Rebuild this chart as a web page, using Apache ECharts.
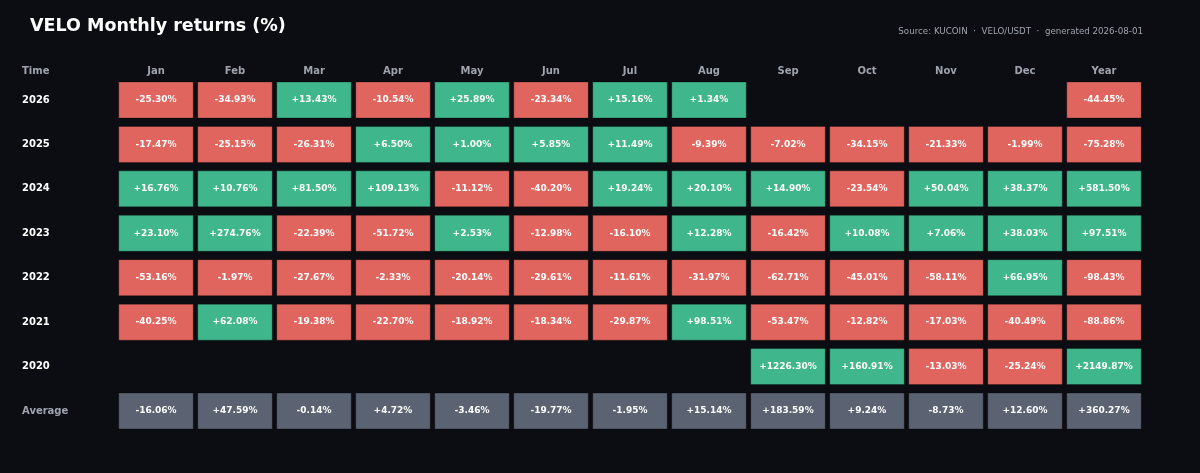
<!DOCTYPE html>
<html>
<head>
<meta charset="utf-8">
<script src="https://cdn.jsdelivr.net/npm/echarts@6/dist/echarts.min.js"></script>
<style>
  html, body { margin: 0; padding: 0; background: #0b0d12; }
  #main { width: 1200px; height: 473px; }
</style>
</head>
<body>
<div id="main"></div>
<script>
var columns = ['Jan', 'Feb', 'Mar', 'Apr', 'May', 'Jun', 'Jul', 'Aug', 'Sep', 'Oct', 'Nov', 'Dec', 'Year'];
var rowNames = ['2026', '2025', '2024', '2023', '2022', '2021', '2020', 'Average'];

var r2026 = [-25.30, -34.93, 13.43, -10.54, 25.89, -23.34, 15.16, 1.34, null, null, null, null, -44.45];
var r2025 = [-17.47, -25.15, -26.31, 6.50, 1.00, 5.85, 11.49, -9.39, -7.02, -34.15, -21.33, -1.99, -75.28];
var r2024 = [16.76, 10.76, 81.50, 109.13, -11.12, -40.20, 19.24, 20.10, 14.90, -23.54, 50.04, 38.37, 581.50];
var r2023 = [23.10, 274.76, -22.39, -51.72, 2.53, -12.98, -16.10, 12.28, -16.42, 10.08, 7.06, 38.03, 97.51];
var r2022 = [-53.16, -1.97, -27.67, -2.33, -20.14, -29.61, -11.61, -31.97, -62.71, -45.01, -58.11, 66.95, -98.43];
var r2021 = [-40.25, 62.08, -19.38, -22.70, -18.92, -18.34, -29.87, 98.51, -53.47, -12.82, -17.03, -40.49, -88.86];
var r2020 = [null, null, null, null, null, null, null, null, 1226.30, 160.91, -13.03, -25.24, 2149.87];
var average = [-16.06, 47.59, -0.14, 4.72, -3.46, -19.77, -1.95, 15.14, 183.59, 9.24, -8.73, 12.60, 360.27];

var rows = [r2026, r2025, r2024, r2023, r2022, r2021, r2020, average];

var UP = '#3fb68b', DOWN = '#e0655e', AVG = '#5b6271';
var FONT = 'DejaVu Sans';

// [col, row, value, isAverage]
var cells = [];
rows.forEach(function (vals, ri) {
  vals.forEach(function (v, ci) {
    if (v === null) return;
    cells.push([ci, ri, v, ri === rows.length - 1 ? 1 : 0]);
  });
});

function fmt(v) {
  return (v >= 0 ? '+' : '') + v.toFixed(2) + '%';
}

var myChart = echarts.init(document.getElementById('main'));
var option = {
  backgroundColor: '#0b0d12',
  animation: false,
  title: [{
    text: 'VELO Monthly returns (%)',
    left: 25, top: 12,
    textStyle: { color: '#ffffff', fontSize: 17.5, fontWeight: 'bold', fontFamily: FONT }
  }, {
    text: 'Source: KUCOIN  \u00b7  VELO/USDT  \u00b7  generated 2026-08-01',
    right: 52, top: 22,
    textStyle: { color: '#9ea3ad', fontSize: 8.7, fontWeight: 'normal', fontFamily: FONT }
  }, {
    text: 'Time',
    left: 17, top: 61,
    textStyle: { color: '#9ea3ad', fontSize: 10, fontWeight: 'bold', fontFamily: FONT }
  }],
  grid: { left: 116.5, right: 56.5, top: 77.8, bottom: 39.8 },
  xAxis: {
    type: 'category',
    position: 'top',
    data: columns,
    axisLine: { show: false },
    axisTick: { show: false },
    splitLine: { show: false },
    axisLabel: { color: '#9ea3ad', fontSize: 10, fontWeight: 'bold', fontFamily: FONT, margin: 1 }
  },
  yAxis: {
    type: 'category',
    inverse: true,
    data: rowNames,
    axisLine: { show: false },
    axisTick: { show: false },
    splitLine: { show: false },
    axisLabel: {
      align: 'left',
      margin: 94.5,
      fontSize: 10,
      fontWeight: 'bold',
      fontFamily: FONT,
      color: function (value) { return value === 'Average' ? '#9ea3ad' : '#ffffff'; }
    }
  },
  series: [{
    type: 'custom',
    data: cells,
    renderItem: function (params, api) {
      var c = api.coord([api.value(0), api.value(1)]);
      var size = api.size([1, 1]);
      var w = size[0] - 4.5, h = 36;
      var v = api.value(2);
      var fill = api.value(3) ? AVG : (v >= 0 ? UP : DOWN);
      return {
        type: 'group',
        children: [{
          type: 'rect',
          shape: { x: c[0] - w / 2, y: c[1] - h / 2, width: w, height: h },
          style: { fill: fill, stroke: 'rgba(0,0,0,0.28)', lineWidth: 1 }
        }, {
          type: 'text',
          x: c[0], y: c[1],
          style: {
            text: fmt(v),
            fill: '#ffffff',
            font: 'bold 9px "DejaVu Sans"',
            align: 'center',
            verticalAlign: 'middle'
          }
        }]
      };
    }
  }]
};
myChart.setOption(option);
</script>
</body>
</html>
